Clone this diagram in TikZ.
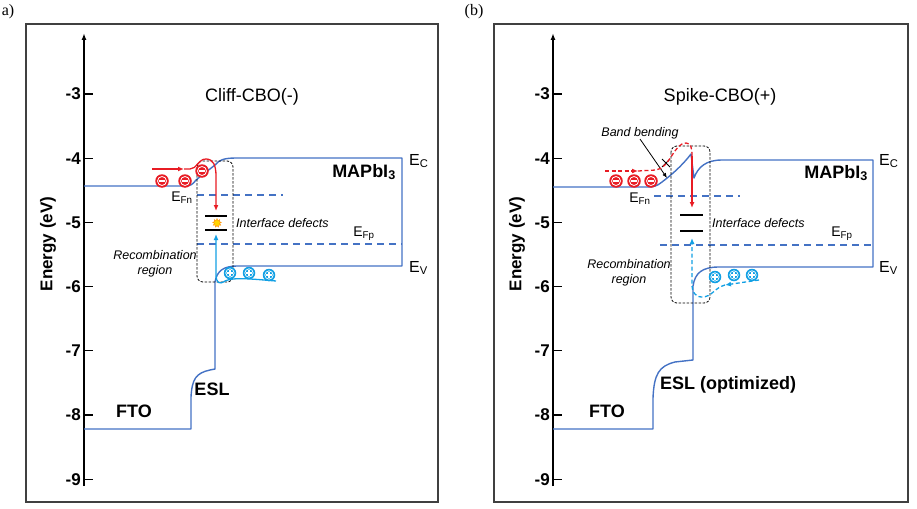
\documentclass[tikz,border=0pt]{standalone}
\usepackage{fontspec}
\setmainfont{Liberation Sans}
\newfontfamily\timesfont{Liberation Serif}
\usetikzlibrary{arrows.meta,shapes.geometric}
\definecolor{bandblue}{RGB}{68,114,196}
\definecolor{ered}{RGB}{232,28,36}
\definecolor{hcyan}{RGB}{18,160,228}
\definecolor{sparkyellow}{RGB}{255,212,0}

\begin{document}
\begin{tikzpicture}[x=1pt,y=-1pt,
  band/.style={bandblue,line width=1.4pt,line join=round},
  fermi_line/.style={bandblue,line width=1.1pt,dash pattern=on 7pt off 5pt},
  rec_box/.style={black,line width=0.8pt,dash pattern=on 2.5pt off 1.5pt,rounded corners=6pt},
  defect/.style={black,line width=2.6pt},
  e_arr/.style={ered,line width=1.3pt,-{Latex[length=6pt,width=5pt]}},
  h_arr/.style={hcyan,line width=1.3pt,-{Latex[length=6pt,width=5pt]}},
  dash_pat/.style={dash pattern=on 4pt off 2.5pt},
  elec/.style={circle,fill=ered,minimum size=13.5pt,inner sep=0pt,
    path picture={\draw[white,line width=0.8pt] (path picture bounding box.center) circle (4.5pt);
      \draw[white,line width=1.5pt] ([xshift=-3.2pt]path picture bounding box.center) -- ([xshift=3.2pt]path picture bounding box.center);}},
  hole/.style={circle,fill=hcyan,minimum size=12.5pt,inner sep=0pt,
    path picture={\draw[white,line width=0.7pt] (path picture bounding box.center) circle (4.2pt);
      \draw[white,line width=1.2pt] ([xshift=-3pt]path picture bounding box.center) -- ([xshift=3pt]path picture bounding box.center)
        ([yshift=-3pt]path picture bounding box.center) -- ([yshift=3pt]path picture bounding box.center);}},
  tick_lbl/.style={font=\fontsize{17}{17}\selectfont\bfseries,anchor=east,inner sep=1pt},
  axis_lbl/.style={font=\fontsize{17}{17}\selectfont\bfseries,rotate=90},
  title_lbl/.style={font=\fontsize{18}{18}\selectfont},
  layer_lbl/.style={font=\fontsize{18}{18}\selectfont\bfseries},
  level_lbl/.style={font=\fontsize{16}{16}\selectfont,anchor=west,inner sep=0pt},
  fermi_lbl/.style={font=\fontsize{14}{14}\selectfont,inner sep=0pt},
  note_lbl/.style={font=\fontsize{12.5}{15}\selectfont\itshape,inner sep=0pt,align=center},
  panel_lbl/.style={font=\fontsize{16}{16}\selectfont\timesfont,inner sep=0pt}]

\useasboundingbox (0,0) rectangle (917,508);

\node[panel_lbl] (pa) at (8,12) {a)};
\node[panel_lbl] (pb) at (474,12) {(b)};
\draw[black!75,line width=1.2pt] (26,24) rectangle (438,502);
\draw[black!75,line width=1.2pt] (494,24) rectangle (908,502);

\foreach \p/\ox in {a/0,b/469} {
  \draw[line width=1.4pt,-{Latex[length=7pt,width=5pt]}] ({84+\ox},486) -- ({84+\ox},33);
  \foreach \e in {3,...,9} {
    \draw[line width=1.2pt] ({84+\ox},{94+(\e-3)*64.2}) -- ++(9,0);
    \node[tick_lbl] (tk\p\e) at ({82+\ox},{94+(\e-3)*64.2}) {-\e};
  }
  \node[axis_lbl] (en\p) at ({48+\ox},244) {Energy (eV)};
}

% (a) cliff
\node[title_lbl] (ttla) at (252,97) {Cliff-CBO(-)};
\draw[band] (84,429) -- (191,429) -- (191,397) .. controls (192,379) and (196,373) .. (210,370) -- (215,369) -- (215,282)
  .. controls (217,271) and (223,266) .. (238,266) -- (402,266) -- (402,158) -- (236,158)
  .. controls (224,158) and (219,160) .. (215,165) -- (196,180) .. controls (193,184) and (191,186) .. (185,186) -- (84,186);
\draw[fermi_line] (197,195) -- (283,195);
\draw[fermi_line] (197,244) -- (402,244);
\draw[rec_box] (197,161) rectangle (233,282);
\draw[defect] (205,216) -- (227,216);
\draw[defect] (205,230) -- (227,230);
\node[star,star points=9,star point ratio=1.7,fill=sparkyellow,draw=orange,line width=0.3pt,minimum size=9pt,inner sep=0pt] (sparka) at (217,223) {};
\node[note_lbl,anchor=west] (defa) at (236,223) {Interface defects};
\node[note_lbl] (reca) at (155,264) {Recombination\\region};
\node[fermi_lbl] (efna) at (182,198) {E\textsubscript{Fn}};
\node[fermi_lbl] (efpa) at (364,234) {E\textsubscript{Fp}};
\node[level_lbl] (eca) at (409,161) {E\textsubscript{C}};
\node[level_lbl] (eva) at (409,268) {E\textsubscript{V}};
\node[layer_lbl] (mapa) at (364,172) {MAPbI\textsubscript{3}};
\node[layer_lbl] (ftoa) at (134,411) {FTO};
\node[layer_lbl] (esla) at (212,389) {ESL};
\draw[e_arr] (152,169) -- (184,169);
\draw[e_arr] (184,169) -- (190,169) .. controls (197,169) and (198,159) .. (206,159) .. controls (213,159) and (216,165) .. (216,176) -- (216,211);
\node[elec] (e1a) at (162,181) {};
\node[elec] (e2a) at (185,181) {};
\node[elec] (e3a) at (202,171) {};
\draw[h_arr] (276,281) .. controls (252,279) and (233,277) .. (225,281) .. controls (219,285) and (216,283) .. (216,274) -- (216,234);
\node[hole] (h1a) at (230,273) {};
\node[hole] (h2a) at (249,273) {};
\node[hole] (h3a) at (269,275) {};

% (b) spike
\node[title_lbl] (ttlb) at (720,97) {Spike-CBO(+)};
\draw[band] (553,429) -- (653,429) -- (653,398) .. controls (654,374) and (659,366) .. (675,362) -- (693,360) -- (693,286)
  .. controls (695,273) and (702,267) .. (719,267) -- (873,267) -- (873,160) -- (722,160)
  .. controls (706,160) and (698,167) .. (694,178) -- (691,154) .. controls (682,166) and (670,176) .. (662,182)
  .. controls (657,186) and (654,187) .. (648,187) -- (553,187);
\draw[fermi_line] (654,196) -- (740,196);
\draw[fermi_line] (660,245) -- (873,245);
\draw[rec_box] (671,146) rectangle (710,303);
\draw[defect] (680,215) -- (703,215);
\draw[defect] (680,231) -- (703,231);
\node[note_lbl,anchor=west] (defb) at (712,223) {Interface defects};
\node[note_lbl] (recb) at (629,273) {Recombination\\region};
\node[note_lbl] (bendb) at (640,133) {Band bending};
\draw[line width=0.8pt,-{Latex[length=5pt,width=4pt]}] (bendb.south) -- (667,178);
\draw[line width=1pt] (662,159) -- (670,167) (662,167) -- (670,159);
\node[fermi_lbl] (efnb) at (640,199) {E\textsubscript{Fn}};
\node[fermi_lbl] (efpb) at (842,234) {E\textsubscript{Fp}};
\node[level_lbl] (ecb) at (879,161) {E\textsubscript{C}};
\node[level_lbl] (evb) at (879,268) {E\textsubscript{V}};
\node[layer_lbl] (mapb) at (836,173) {MAPbI\textsubscript{3}};
\node[layer_lbl] (ftob) at (607,411) {FTO};
\node[layer_lbl] (eslb) at (728,385) {ESL (optimized)};
\draw[e_arr,dash_pat] (605,171) -- (638,171);
\draw[ered,line width=1.3pt,dash_pat] (638,171) -- (656,170) .. controls (670,168) and (674,143) .. (686,143) .. controls (691,143) and (692,148) .. (692,156);
\draw[e_arr] (692,156) -- (692,208);
\node[elec] (e1b) at (616,181) {};
\node[elec] (e2b) at (634,181) {};
\node[elec] (e3b) at (651,181) {};
\draw[h_arr,dash_pat] (759,280) -- (725,285);
\draw[h_arr,dash_pat] (725,285) .. controls (714,288) and (712,297) .. (702,297) .. controls (695,297) and (692,292) .. (692,284) -- (692,238);
\node[hole] (h1b) at (715,277) {};
\node[hole] (h2b) at (734,275) {};
\node[hole] (h3b) at (752,275) {};
\end{tikzpicture}
\end{document}
